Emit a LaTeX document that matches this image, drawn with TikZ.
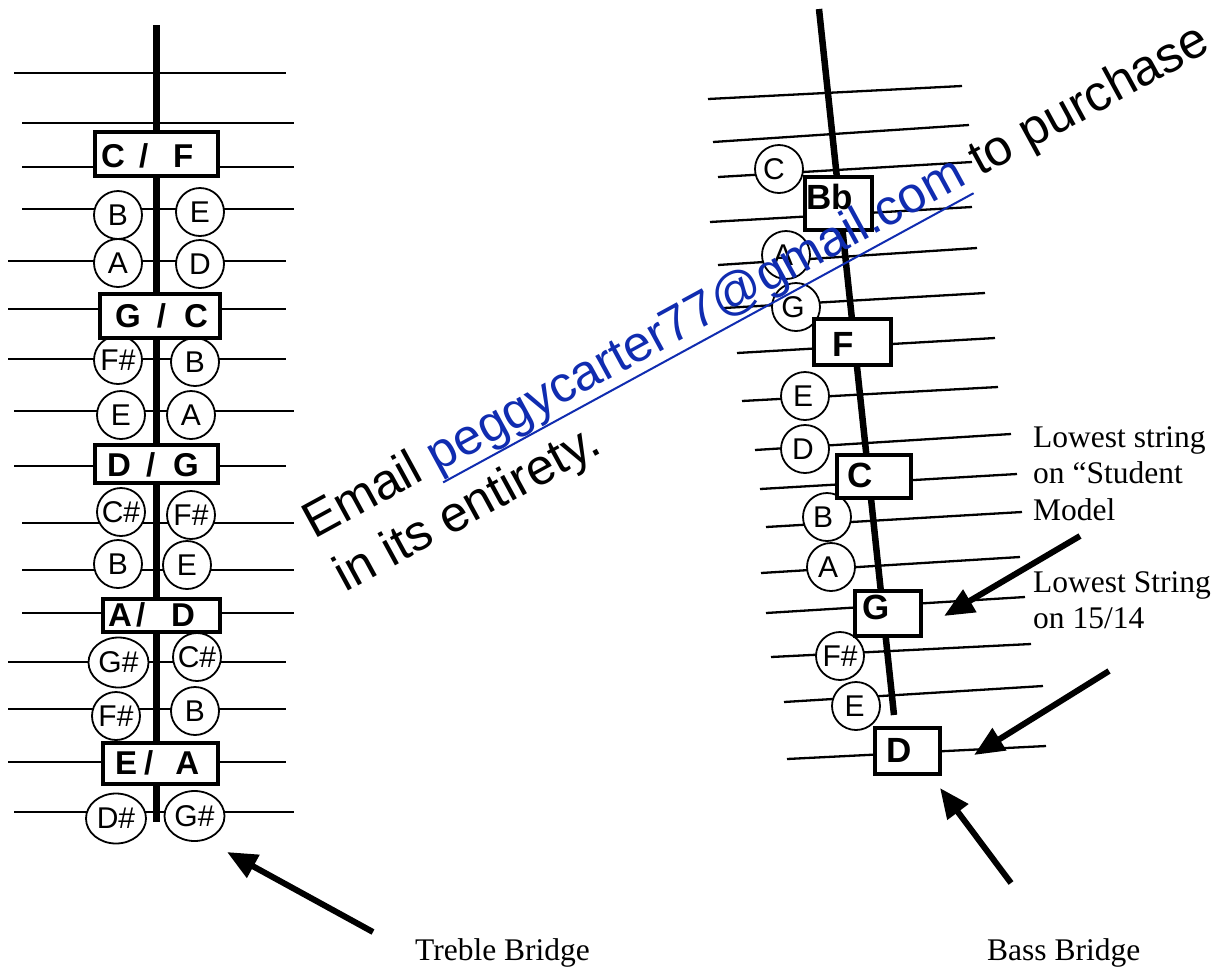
\documentclass[tikz,border=0pt]{standalone}
\usepackage{fontspec}
\setmainfont{Liberation Serif}
\newfontfamily\helv{Liberation Sans}
\usetikzlibrary{shapes.geometric,arrows.meta}
\definecolor{mailblue}{RGB}{16,44,176}
\begin{document}
\begin{tikzpicture}[x=1pt,y=-1pt,
  string/.style={line width=2.3pt},
  bridge/.style={line width=7pt},
  note/.style={circle,draw,line width=1.8pt,fill=white,minimum size=48pt,inner sep=0pt,
    font=\helv\fontsize{30}{30}\selectfont},
  wide note/.style={ellipse,draw,line width=1.8pt,fill=white,inner sep=0pt,
    minimum width=60pt,minimum height=50pt,font=\helv\fontsize{30}{30}\selectfont},
  keybox/.style={rectangle,draw,line width=4pt,fill=white,inner sep=0pt},
  keytext/.style={anchor=base west,inner sep=0pt,font=\helv\bfseries\fontsize{33}{33}\selectfont},
  bigkeytext/.style={keytext,font=\helv\bfseries\fontsize{35}{35}\selectfont},
  pointer/.style={line width=6pt,-{Triangle[length=30pt,width=25pt]}},
  caption/.style={anchor=base west,inner sep=0pt,font=\fontsize{31.5}{36}\selectfont},
  mailtext/.style={anchor=base west,inner sep=0pt,font=\helv\fontsize{50.5}{60}\selectfont}
]
\fill[white] (0,0) rectangle (1215,967);
\useasboundingbox (0,0) rectangle (1215,967);

% ---------------- treble bridge ----------------
\foreach \y/\a/\b in {73/14/286,123/22/294,167/22/294,209/22/294,261/8/286,309/8/286,
  359/8/286,411/14/294,466/14/286,523/22/294,570/22/294,613/22/294,662/8/286,
  709/8/286,762/8/286,812/14/294}
  \draw[string] (\a,\y) -- (\b,\y);
\coordinate (tr top) at (156,25);
\coordinate (tr bot) at (156,822);
\draw[bridge] (tr top) -- (tr bot);

\node[note] (t1l) at (118,215) {B};
\node[note] (t1r) at (200,212) {E};
\node[note] (t2l) at (118,263) {A};
\node[note] (t2r) at (200,264) {D};
\node[note] (t3l) at (118,360) {F\#};
\node[note] (t3r) at (195,362) {B};
\node[note] (t4l) at (121,415) {E};
\node[note] (t4r) at (191,415) {A};
\node[note] (t5l) at (121,512) {C\#};
\node[note] (t5r) at (191,515) {F\#};
\node[note] (t6l) at (118,564) {B};
\node[note] (t6r) at (187,565) {E};
\node[wide note] (t7l) at (118.5,662.5) {G\#};
\node[note] (t7r) at (197,657) {C\#};
\node[note] (t8l) at (116,716) {F\#};
\node[note] (t8r) at (195,711) {B};
\node[wide note] (t9l) at (116,818.5) {D\#};
\node[wide note] (t9r) at (194.5,816) {G\#};

\node[keybox,minimum width=123pt,minimum height=44pt] (kcf) at (156.5,154) {};
\node[keybox,minimum width=120pt,minimum height=44pt] (kgc) at (160,316) {};
\node[keybox,minimum width=123pt,minimum height=38pt] (kdg) at (156.5,464) {};
\node[keybox,minimum width=117pt,minimum height=33pt] (kad) at (161.5,615.5) {};
\node[keybox,minimum width=115pt,minimum height=41pt] (kea) at (160.5,763.5) {};
\node[keytext] (xcf) at (101,167) {C\hspace{14pt}/\hspace{25pt}F};
\node[keytext] (xgc) at (115,327) {G\hspace{16pt}/\hspace{18pt}C};
\node[keytext] (xdg) at (107,476) {D\hspace{15pt}/\hspace{18pt}G};
\node[keytext] (xad) at (108,626) {A\hspace{4pt}/\hspace{26pt}D};
\node[keytext] (xea) at (115,774) {E\hspace{7pt}/\hspace{22pt}A};

% ---------------- bass bridge ----------------
\foreach \a/\p/\b/\q in {708/99/962/86,713/142/969/125,718/177/972/162,710/222/972/207,
  718/265/977/248,724/308/985/293,737/353/995/338,742/401/998/387,755/450/1011/434,
  760/489/1017/474,766/527/1022/512,761/573/1020/557,766/613/1025/597,771/657/1031/644,
  784/702/1043/686,787/759/1046/746}
  \draw[string] (\a,\p) -- (\b,\q);
\coordinate (bs top) at (819,9);
\coordinate (bs bot) at (894,715);
\draw[line width=6.5pt] (bs top) -- (bs bot);

\node[note] (b1) at (779,169) {C\hspace*{10pt}};
\node[note] (b2) at (786,255) {A\hspace*{6pt}};
\node[note] (b3) at (796,307) {G\hspace*{6pt}};
\node[note] (b4) at (805,396) {E\hspace*{4pt}};
\node[note] (b5) at (805,449) {D\hspace*{4pt}};
\node[note] (b6) at (827,517) {B\hspace*{8pt}};
\node[note] (b7) at (831,567) {A\hspace*{6pt}};
\node[note] (b8) at (840,656) {F\#};
\node[note] (b9) at (856,706) {E\hspace*{3pt}};

\node[keybox,minimum width=67pt,minimum height=53pt] (kbb) at (838.5,203.5) {};
\node[keybox,minimum width=77pt,minimum height=46pt] (kf) at (852.5,342) {};
\node[keybox,minimum width=74pt,minimum height=43pt] (kc) at (874,476.5) {};
\node[keybox,minimum width=66pt,minimum height=45pt] (kg) at (888,613.5) {};
\node[keybox,minimum width=65pt,minimum height=46pt] (kd) at (907.5,751) {};
\node[bigkeytext] (xbb) at (806,209) {Bb};
\node[bigkeytext] (xf) at (832,356) {F};
\node[bigkeytext] (xc) at (847,487) {C};
\node[bigkeytext] (xg) at (862,619) {G};
\node[bigkeytext] (xd) at (886,762) {D};

% ---------------- pointers and captions ----------------
\coordinate (p1 tail) at (373,932);  \coordinate (p1 tip) at (227,852);
\coordinate (p2 tail) at (1080,536); \coordinate (p2 tip) at (944,616);
\coordinate (p3 tail) at (1109,671); \coordinate (p3 tip) at (974,755);
\coordinate (p4 tail) at (1011,883); \coordinate (p4 tip) at (940,788);
\draw[pointer] (p1 tail) -- (p1 tip);
\draw[pointer] (p2 tail) -- (p2 tip);
\draw[pointer] (p3 tail) -- (p3 tip);
\draw[pointer] (p4 tail) -- (p4 tip);

\node[caption] (cap treble) at (415,960) {Treble Bridge};
\node[caption] (cap bass) at (987,960) {Bass Bridge};
\node[caption] (cap s1) at (1033,447) {Lowest string};
\node[caption] (cap s2) at (1033,483) {on “Student};
\node[caption] (cap s3) at (1033,520) {Model};
\node[caption] (cap l1) at (1033,592) {Lowest String};
\node[caption] (cap l2) at (1033,628) {on 15/14};

% ---------------- purchase note ----------------
\begin{scope}[shift={(314.5,540)},rotate=28.6,transform shape]
  \node[mailtext] (mail1) at (0,0) {Email {\color{mailblue}\setbox0=\hbox{peggycarter77@gmail.com}\rlap{\rule[-12pt]{\wd0}{2pt}}\box0} to purchase};
  \node[mailtext] (mail2) at (2,61) {in its entirety.};
\end{scope}
\end{tikzpicture}
\end{document}
